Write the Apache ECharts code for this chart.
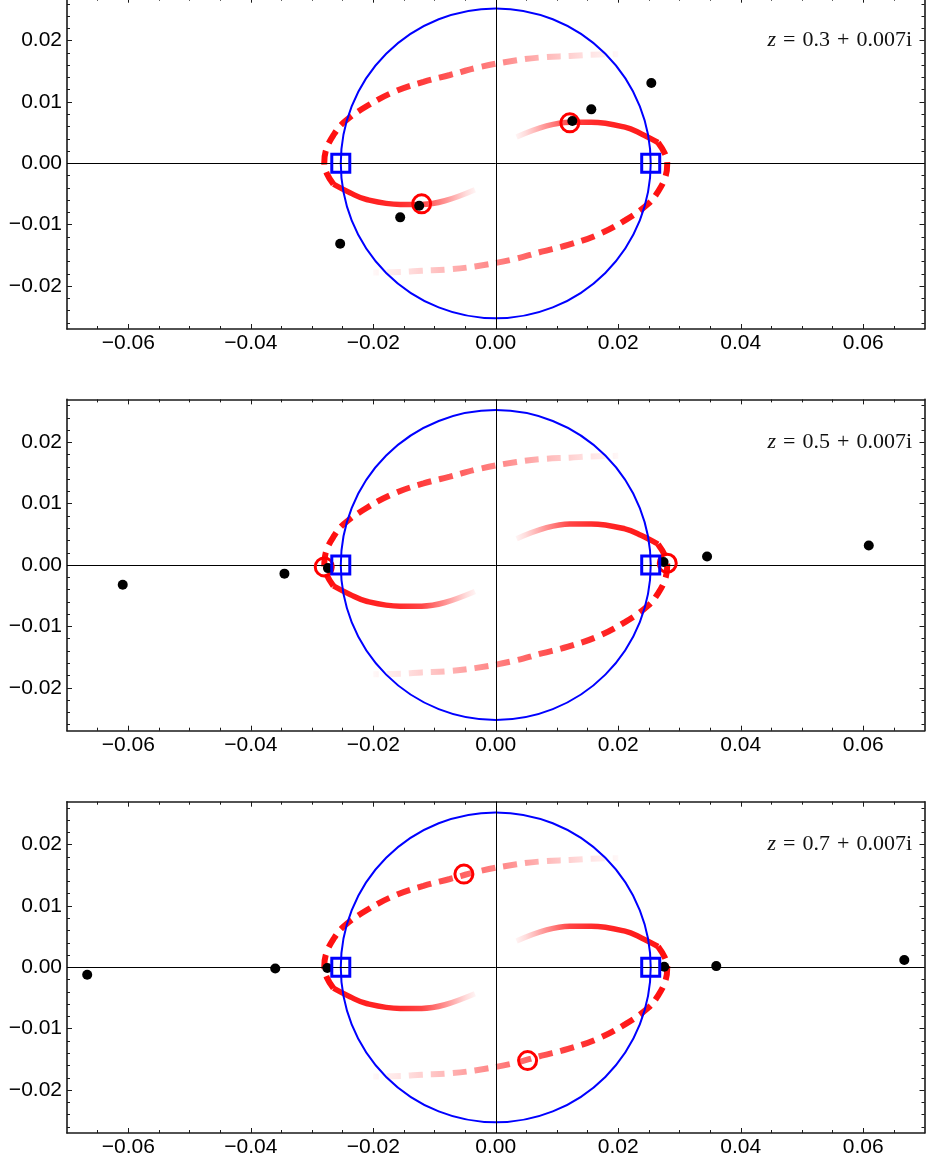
<!DOCTYPE html>
<html><head><meta charset="utf-8">
<script src="https://cdn.jsdelivr.net/npm/echarts@6/dist/echarts.min.js"></script>
<style>html,body{margin:0;padding:0;background:#fff}#c{width:927px;height:1164px}</style>
</head><body><div id="c"></div>
<script>
// ---------- data ----------
const panelLabels = ['0.3', '0.5', '0.7'];
const panelImag = '0.007i';
const xMajorTicks = [-0.06, -0.04, -0.02, 0, 0.02, 0.04, 0.06];
const xMinorTicks = [-0.065, -0.055, -0.05, -0.045, -0.035, -0.03, -0.025, -0.015, -0.01, -0.005,
                     0.005, 0.01, 0.015, 0.025, 0.03, 0.035, 0.045, 0.05, 0.055, 0.065];
const yMajorTicks = [-0.02, -0.01, 0, 0.01, 0.02];
const yMinorTicks = [-0.026, -0.024, -0.022, -0.018, -0.016, -0.014, -0.012, -0.008, -0.006, -0.004, -0.002,
                     0.002, 0.004, 0.006, 0.008, 0.012, 0.014, 0.016, 0.018, 0.022, 0.024, 0.026];
const unitCircle = [[0, 0, 0.0253]];           // centre x, centre y, radius
const branchPoints = [[-0.0253, 0], [0.0253, 0]];
const solidArcA = [[-0.0265,-0.0034],[-0.0238,-0.0048],[-0.0211,-0.0059],[-0.0156,-0.0067],
                   [-0.0121,-0.0067],[-0.0083,-0.0061],[-0.0034,-0.0043]];
const dashedArcA = [[-0.0265,-0.0034],[-0.0276,-0.0016],[-0.0280,0.0000],[-0.0277,0.0022],
                    [-0.0265,0.0046],[-0.0249,0.0066],[-0.0211,0.0093],
                    [-0.0165,0.0117],[-0.0118,0.0133],[-0.0075,0.0144],[-0.0026,0.0157],
                    [0.0034,0.0168],[0.0078,0.0173],[0.0121,0.0175],[0.0154,0.0177],[0.0200,0.0178]];
const solidArcB = [[0.0265,0.0034],[0.0238,0.0048],[0.0211,0.0059],[0.0156,0.0067],
                   [0.0121,0.0067],[0.0083,0.0061],[0.0034,0.0043]];
const dashedArcB = [[0.0265,0.0034],[0.0276,0.0016],[0.0280,0.0000],[0.0277,-0.0022],
                    [0.0265,-0.0046],[0.0249,-0.0066],[0.0211,-0.0093],
                    [0.0165,-0.0117],[0.0118,-0.0133],[0.0075,-0.0144],[0.0026,-0.0157],
                    [-0.0034,-0.0168],[-0.0078,-0.0173],[-0.0121,-0.0175],[-0.0154,-0.0177],[-0.0200,-0.0178]];
const redRingsP1 = [[-0.0121,-0.0066],[0.0121,0.0066]];
const redRingsP2 = [[-0.0280,-0.0003],[0.0280,0.0003]];
const redRingsP3 = [[-0.0052,0.0152],[0.0052,-0.0152]];
const dotsP1 = [[-0.0254,-0.0131],[-0.0156,-0.0088],[-0.0125,-0.0069],[0.0125,0.0069],[0.0156,0.0088],[0.0254,0.0131]];
const dotsP2 = [[-0.0609,-0.0032],[-0.0345,-0.0014],[-0.0274,-0.0005],[0.0274,0.0005],[0.0345,0.0014],[0.0609,0.0032]];
const dotsP3 = [[-0.0667,-0.0012],[-0.0360,-0.0002],[-0.0275,-0.0001],[0.0275,0.0001],[0.0360,0.0002],[0.0667,0.0012]];
const panelRings = [redRingsP1, redRingsP2, redRingsP3];
const panelDots = [dotsP1, dotsP2, dotsP3];

// ---------- layout ----------
const gridTops = [-2.3, 399.4, 801.7];
const gridH = 331.3;
const X_MIN = -0.07, X_MAX = 0.07, Y_MIN = -0.027, Y_MAX = 0.027;
const FRAME = '#1a1a1a';

const fmt = v => (v < 0 ? '\u2212' : '') + Math.abs(v).toFixed(2);

function mkAxis(dim, gi, position, ticks, len, showLine, showLabel) {
  return {
    type: 'value', gridIndex: gi, position: position,
    min: dim === 'x' ? X_MIN : Y_MIN, max: dim === 'x' ? X_MAX : Y_MAX,
    splitLine: { show: false },
    axisLine: { show: showLine, onZero: false, lineStyle: { color: FRAME, width: 1.6 } },
    axisTick: { show: true, inside: true, length: len, customValues: ticks, lineStyle: { color: FRAME, width: 1 } },
    axisLabel: { show: showLabel, customValues: ticks, formatter: fmt, color: '#000',
                 fontFamily: 'Liberation Sans, Arial, sans-serif', fontSize: 21, margin: dim === 'x' ? 4 : 5 },
    axisPointer: { show: false }
  };
}

const grids = [], xAxes = [], yAxes = [], series = [], titles = [];
function grad(reverse, stops) {
  return { type: 'linear', x: reverse ? 1 : 0, y: 0, x2: reverse ? 0 : 1, y2: 0,
           colorStops: stops.map(s => ({ offset: s[0], color: s[1] })) };
}
const dashStops = [[0, '#ff0d0d'], [0.2, '#ff1f1f'], [0.35, '#ff4040'], [0.58, '#ff8282'], [0.76, '#ffbcbc'], [0.88, '#ffe0e0'], [1, '#fffafa']];
const solidStops = [[0, '#ff1515'], [0.45, '#ff2a2a'], [0.62, '#ff4545'], [0.8, '#ff9c9c'], [0.92, '#ffdcdc'], [1, '#fffafa']];

for (let gi = 0; gi < 3; gi++) {
  grids.push({ left: 67, right: 2.5, top: gridTops[gi], height: gridH, outerBoundsMode: 'none', containLabel: false });
  const xi = xAxes.length, yi = yAxes.length;
  xAxes.push(mkAxis('x', gi, 'bottom', xMajorTicks, 5, true, true));
  xAxes.push(mkAxis('x', gi, 'bottom', xMinorTicks, 3, false, false));
  xAxes.push(mkAxis('x', gi, 'top', xMajorTicks, 5, true, false));
  xAxes.push(mkAxis('x', gi, 'top', xMinorTicks, 3, false, false));
  yAxes.push(mkAxis('y', gi, 'left', yMajorTicks, 5, true, true));
  yAxes.push(mkAxis('y', gi, 'left', yMinorTicks, 3, false, false));
  yAxes.push(mkAxis('y', gi, 'right', yMajorTicks, 5, true, false));
  yAxes.push(mkAxis('y', gi, 'right', yMinorTicks, 3, false, false));
  const ax = { xAxisIndex: xi, yAxisIndex: yi, silent: true, animation: false };

  const lineS = (data, dashed, reverse) => Object.assign({
    type: 'line', data: data, showSymbol: false, symbol: 'none', smooth: 0.4, z: 2,
    lineStyle: { width: dashed ? 6 : 5.5, type: dashed ? [14, 8] : 'solid', cap: 'butt',
                 color: grad(reverse, dashed ? dashStops : solidStops) }
  }, ax);
  series.push(lineS(dashedArcA, true, false));
  series.push(lineS(dashedArcB, true, true));
  series.push(lineS(solidArcA, false, false));
  series.push(lineS(solidArcB, false, true));

  series.push(Object.assign({
    type: 'custom', data: unitCircle, z: 3,
    renderItem: (params, api) => {
      const c = api.coord([api.value(0), api.value(1)]);
      const s = api.size([api.value(2), api.value(2)]);
      return { type: 'circle', shape: { cx: c[0], cy: c[1], r: s[0] },
               style: { fill: null, stroke: '#0000ff', lineWidth: 2 } };
    }
  }, ax));

  series.push(Object.assign({
    type: 'scatter', data: panelRings[gi], symbol: 'circle', symbolSize: 18, z: 5,
    itemStyle: { color: 'rgba(255,255,255,0)', borderColor: '#ff0000', borderWidth: 3, opacity: 1 },
    markLine: { silent: true, symbol: 'none', z: 4, label: { show: false },
                lineStyle: { color: '#000', width: 1, type: 'solid', opacity: 1 },
                data: [{ yAxis: 0 }, { xAxis: 0 }] }
  }, ax));
  series.push(Object.assign({
    type: 'scatter', data: panelDots[gi], symbol: 'circle', symbolSize: 10, z: 6,
    itemStyle: { color: '#000', opacity: 1 }
  }, ax));
  series.push(Object.assign({
    type: 'scatter', data: branchPoints, symbol: 'rect', symbolSize: 18, z: 7,
    itemStyle: { color: 'rgba(255,255,255,0)', borderColor: '#0000ff', borderWidth: 3, opacity: 1 }
  }, ax));

  titles.push({
    text: '{z|z}{op|=}' + panelLabels[gi] + '{op|+}' + panelImag, right: 15, top: gridTops[gi] + 31, padding: 0,
    textStyle: { fontFamily: 'Liberation Serif, Times New Roman, serif', fontSize: 22, fontWeight: 'normal',
                 color: '#111', lineHeight: 24,
                 rich: { z: { fontStyle: 'italic', fontFamily: 'Liberation Serif, serif', fontSize: 22, color: '#111', lineHeight: 24 },
                         op: { fontFamily: 'Liberation Serif, serif', fontSize: 22, color: '#111', padding: [0, 7], lineHeight: 24 } } }
  });
}

const chart = echarts.init(document.getElementById('c'), null, { renderer: 'canvas' });
chart.setOption({
  animation: false, backgroundColor: '#fff',
  title: titles, grid: grids, xAxis: xAxes, yAxis: yAxes, series: series
});
</script></body></html>
